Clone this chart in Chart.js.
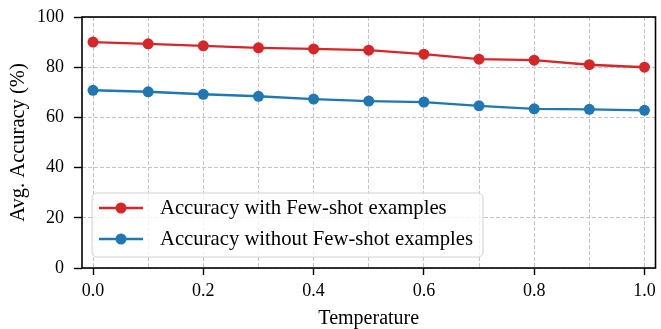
<!DOCTYPE html>
<html>
<head>
<meta charset="utf-8">
<script src="https://cdn.jsdelivr.net/npm/chart.js@4.4.1/dist/chart.umd.min.js"></script>
<style>
  html, body { margin: 0; padding: 0; background: #fff; }
  #wrap { width: 661px; height: 329px; }
</style>
</head>
<body>
<div id="wrap"><canvas id="chart"></canvas></div>
<script>
// ---- data ----
const temperatures  = [0.0, 0.1, 0.2, 0.3, 0.4, 0.5, 0.6, 0.7, 0.8, 0.9, 1.0];
const accFewShot    = [90.0, 89.3, 88.5, 87.7, 87.3, 86.8, 85.2, 83.2, 82.8, 81.0, 80.0];
const accNoFewShot  = [70.8, 70.2, 69.2, 68.4, 67.3, 66.5, 66.1, 64.6, 63.4, 63.2, 62.8];
const seriesLabels  = ["Accuracy with Few-shot examples", "Accuracy without Few-shot examples"];
const seriesColors  = ["#d62728", "#1f77b4"];

const xGridTicks  = [0.0, 0.1, 0.2, 0.3, 0.4, 0.5, 0.6, 0.7, 0.8, 0.9, 1.0];
const xLabelTicks = [0.0, 0.2, 0.4, 0.6, 0.8, 1.0];
const yTicks      = [0, 20, 40, 60, 80, 100];

const FONT = "'Liberation Serif', 'DejaVu Serif', serif";
const isLabeled = v => xLabelTicks.some(t => Math.abs(t - v) < 1e-9);

const toPoints = ys => temperatures.map((t, i) => ({ x: t, y: ys[i] }));

// box around the plot + legend inside the axes
const frameAndLegend = {
  id: "frameAndLegend",
  afterDatasetsDraw(chart) {
    const { ctx, chartArea: a } = chart;
    ctx.save();
    ctx.strokeStyle = "#000";
    ctx.lineWidth = 1.6;
    ctx.strokeRect(a.left, a.top, a.right - a.left, a.bottom - a.top);

    // legend
    const bx = 92, by = 193, bw = 391, bh = 64;
    ctx.beginPath();
    ctx.roundRect(bx, by, bw, bh, 5);
    ctx.fillStyle = "rgba(255,255,255,0.8)";
    ctx.fill();
    ctx.strokeStyle = "#d0d0d0";
    ctx.lineWidth = 1;
    ctx.stroke();

    ctx.font = "20.7px " + FONT;
    ctx.textBaseline = "middle";
    ctx.textAlign = "left";
    chart.data.datasets.forEach((ds, i) => {
      const y = 208 + i * 31;
      ctx.strokeStyle = ds.borderColor;
      ctx.lineWidth = 2.4;
      ctx.beginPath();
      ctx.moveTo(99, y);
      ctx.lineTo(143, y);
      ctx.stroke();
      ctx.fillStyle = ds.backgroundColor;
      ctx.beginPath();
      ctx.arc(121, y, 5.5, 0, Math.PI * 2);
      ctx.fill();
      ctx.fillStyle = "#000";
      ctx.fillText(ds.label, 160, y + 1);
    });
    ctx.restore();
  }
};

new Chart(document.getElementById("chart"), {
  type: "line",
  data: {
    datasets: [accFewShot, accNoFewShot].map((ys, i) => ({
      label: seriesLabels[i],
      data: toPoints(ys),
      borderColor: seriesColors[i],
      backgroundColor: seriesColors[i],
      borderWidth: 2.4,
      pointRadius: 5.5,
      pointHoverRadius: 5.5,
      pointBorderWidth: 0,
      tension: 0
    }))
  },
  options: {
    responsive: true,
    maintainAspectRatio: false,
    devicePixelRatio: 1,
    animation: false,
    layout: { padding: { left: 0, right: 2, top: 17, bottom: 0 } },
    plugins: { legend: { display: false }, tooltip: { enabled: false } },
    scales: {
      x: {
        type: "linear",
        min: -0.02,
        max: 1.02,
        afterBuildTicks: s => { s.ticks = xGridTicks.map(v => ({ value: v })); },
        afterFit: s => { s.height = 61; s.paddingLeft = 0; s.paddingRight = 0; },
        border: { display: false, dash: [4, 2] },
        grid: {
          color: "#c4c4c4",
          lineWidth: 1,
          tickLength: 7,
          tickWidth: 1.4,
          tickColor: c => (c.tick && isLabeled(c.tick.value)) ? "#000" : "rgba(0,0,0,0)"
        },
        ticks: {
          autoSkip: false,
          maxRotation: 0,
          padding: 5,
          color: "#000",
          font: { family: FONT, size: 18 },
          callback: v => isLabeled(v) ? v.toFixed(1) : ""
        },
        title: {
          display: true,
          text: "Temperature",
          color: "#000",
          font: { family: FONT, size: 20, lineHeight: 1 },
          padding: { top: 0, bottom: 0 }
        }
      },
      y: {
        min: 0,
        max: 100,
        afterBuildTicks: s => { s.ticks = yTicks.map(v => ({ value: v })); },
        afterFit: s => { s.width = 82; s.paddingTop = 0; s.paddingBottom = 0; },
        border: { display: false, dash: [4, 2] },
        grid: {
          color: "#c4c4c4",
          lineWidth: 1,
          tickLength: 8,
          tickWidth: 1.4,
          tickColor: "#000"
        },
        ticks: {
          padding: 10,
          color: "#000",
          font: { family: FONT, size: 18 }
        },
        title: {
          display: true,
          text: "Avg. Accuracy (%)",
          color: "#000",
          font: { family: FONT, size: 20.5, lineHeight: 1 },
          padding: { top: 8, bottom: 0 }
        }
      }
    }
  },
  plugins: [frameAndLegend]
});
</script>
</body>
</html>
